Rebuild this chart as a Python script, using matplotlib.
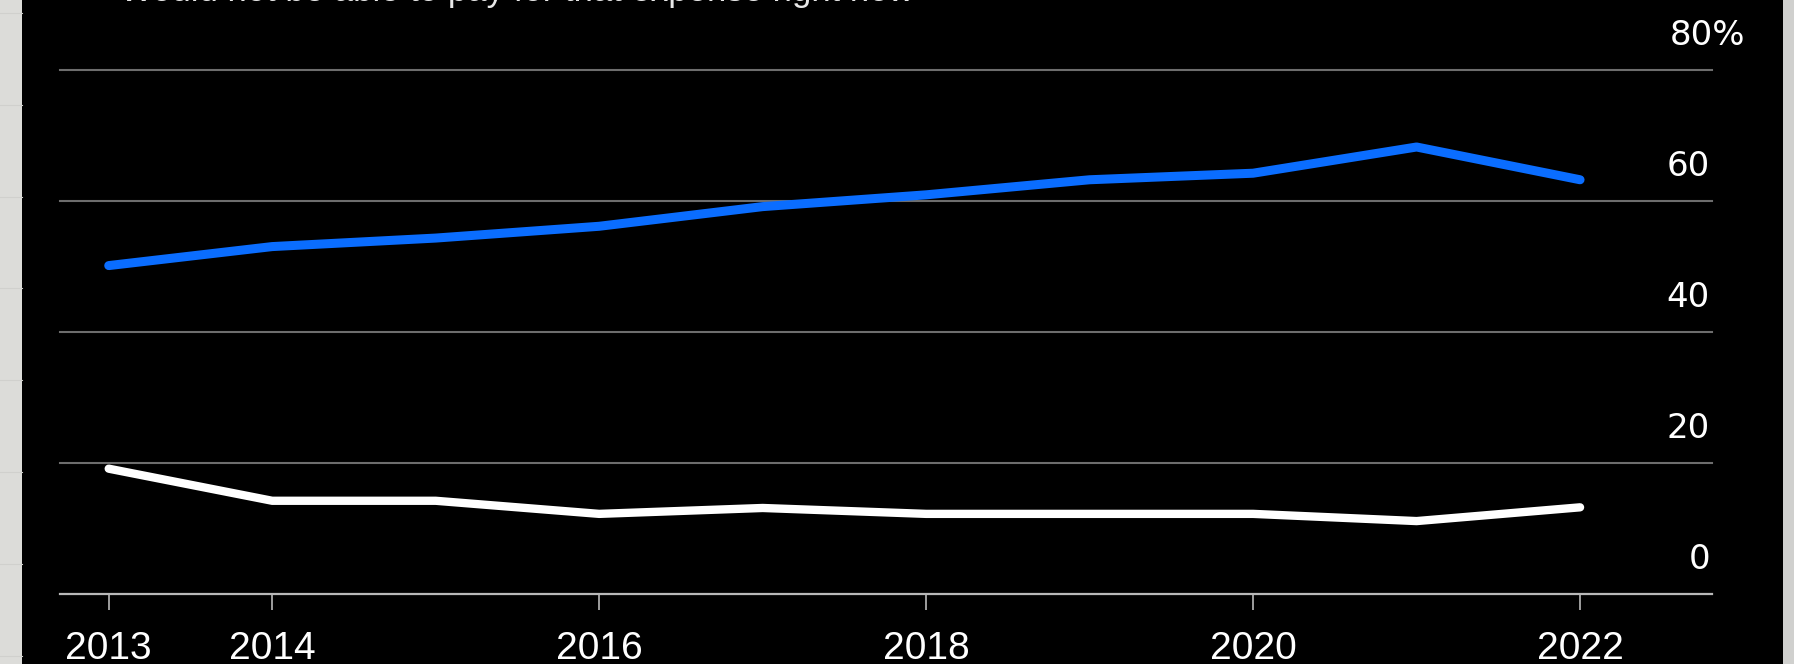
import matplotlib
matplotlib.use("Agg")
import matplotlib.pyplot as plt
import matplotlib.transforms as mtrans
from matplotlib.patches import Rectangle
from matplotlib.lines import Line2D

# ---- data ----
years = [2013, 2014, 2015, 2016, 2017, 2018, 2019, 2020, 2021, 2022]
could_pay = [50.1, 53.0, 54.3, 56.1, 59.1, 60.9, 63.2, 64.2, 68.2, 63.2]
would_not = [19.1, 14.2, 14.2, 12.2, 13.1, 12.2, 12.2, 12.2, 11.1, 13.2]
x_ticks = [2013, 2014, 2016, 2018, 2020, 2022]
x_tick_labels = ["2013", "2014", "2016", "2018", "2020", "2022"]
y_ticks = [0, 20, 40, 60, 80]
y_tick_labels = ["0", "20", "40", "60", "80%"]
legend_text = "Would not be able to pay for that expense right now"

W, H = 1794, 664
fig = plt.figure(figsize=(W / 100, H / 100), dpi=100, facecolor="black")

# paper strips on both sides of the screenshot
fig.patches.append(Rectangle((0, 0), 22 / W, 1, transform=fig.transFigure,
                             facecolor="#dcdcd9", edgecolor="none", zorder=0))
fig.patches.append(Rectangle((1783 / W, 0), 11 / W, 1, transform=fig.transFigure,
                             facecolor="#d0d0ce", edgecolor="none", zorder=0))
for i in range(8):
    yy = 1 - (13 + 91.8 * i) / H
    fig.lines.append(Line2D([0, 22 / W], [yy, yy], transform=fig.transFigure,
                            color="#d0d0cd", lw=0.8))

ax = fig.add_axes([60 / W, (H - 593.8) / H, 1652 / W, 524.1 / H])
ax.set_facecolor("black")
ax.set_xlim(2012.702, 2022.807)
ax.set_ylim(0, 80)

for y in y_ticks[1:]:
    ax.axhline(y, color="#6d6d6d", lw=1.5, clip_on=False, zorder=1)

for s in ["top", "left", "right"]:
    ax.spines[s].set_visible(False)
ax.spines["bottom"].set_color("#b8b8b8")
ax.spines["bottom"].set_linewidth(1.6)

ax.set_xticks(x_ticks)
ax.set_xticklabels(x_tick_labels, fontsize=28, color="white",
                   family=["Liberation Sans Narrow", "Liberation Sans"])
ax.tick_params(axis="x", length=11.5, width=1.2, color="#b8b8b8", pad=15)
ax.set_yticks([])

# right-side value labels sitting above the gridlines
base = mtrans.blended_transform_factory(ax.transAxes, ax.transData)
trans = mtrans.offset_copy(base, fig=fig, x=0, y=34, units="dots")
for v, lab in zip(y_ticks, y_tick_labels):
    xr = (1745 - 60) / 1652 if lab.endswith("%") else (1710 - 60) / 1652
    ax.text(xr, v, lab, transform=trans, ha="right", va="center",
            fontsize=24.5, color="white", family="DejaVu Sans")

ax.plot(years, could_pay, color="#0a6dff", lw=6.5, solid_capstyle="round",
        solid_joinstyle="round", zorder=3)
ax.plot(years, would_not, color="white", lw=6.0, solid_capstyle="round",
        solid_joinstyle="round", zorder=3)

# legend line cut off by the top of the screenshot
fig.text(120 / W, 1 - 1 / H, legend_text, ha="left", va="baseline",
         fontsize=25, color="#e8e8e8", family="Liberation Sans")
fig.text(67 / W, 1 - 1 / H, "\u2713", ha="center", va="baseline",
         fontsize=22, color="white", family="DejaVu Sans")

fig.savefig("out.png", dpi=100, facecolor="black")
